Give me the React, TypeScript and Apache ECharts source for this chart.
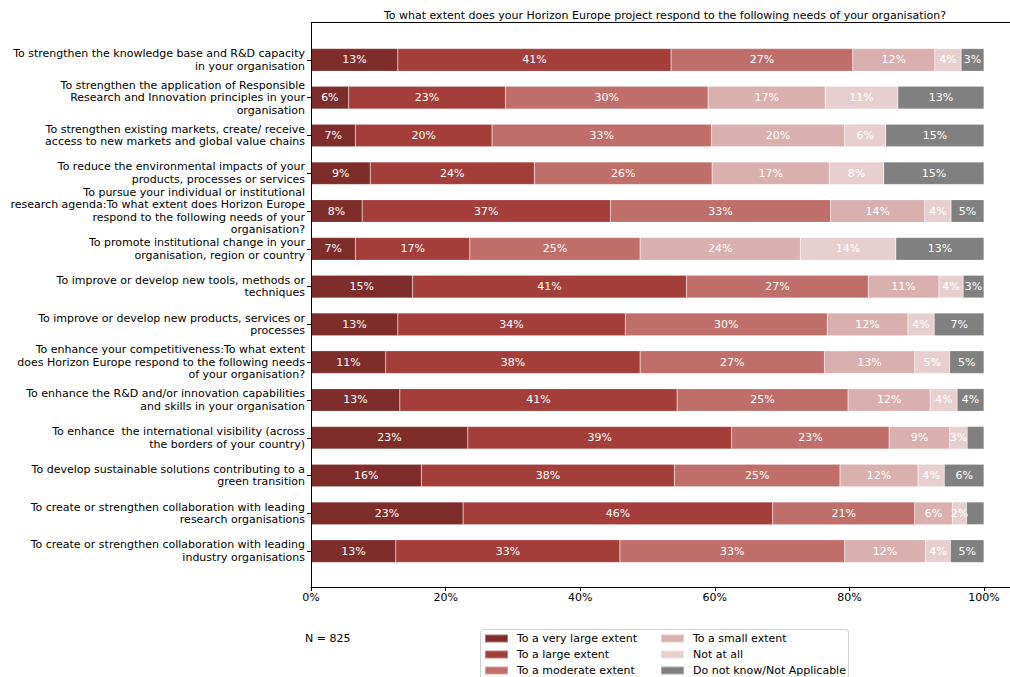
import React, { useEffect, useRef } from "react";
import * as echarts from "echarts";

const categories = [
  "To strengthen the knowledge base and R&D capacity\nin your organisation",
  "To strengthen the application of Responsible\nResearch and Innovation principles in your\norganisation",
  "To strengthen existing markets, create/ receive\naccess to new markets and global value chains",
  "To reduce the environmental impacts of your\nproducts, processes or services",
  "To pursue your individual or institutional\nresearch agenda:To what extent does Horizon Europe\nrespond to the following needs of your\norganisation?",
  "To promote institutional change in your\norganisation, region or country",
  "To improve or develop new tools, methods or\ntechniques",
  "To improve or develop new products, services or\nprocesses",
  "To enhance your competitiveness:To what extent\ndoes Horizon Europe respond to the following needs\nof your organisation?",
  "To enhance the R&D and/or innovation capabilities\nand skills in your organisation",
  "To enhance  the international visibility (across\nthe borders of your country)",
  "To develop sustainable solutions contributing to a\ngreen transition",
  "To create or strengthen collaboration with leading\nresearch organisations",
  "To create or strengthen collaboration with leading\nindustry organisations",
];

const seriesNames = [
  "To a very large extent",
  "To a large extent",
  "To a moderate extent",
  "To a small extent",
  "Not at all",
  "Do not know/Not Applicable",
];

const veryLarge = [12.9, 5.6, 6.6, 8.8, 7.6, 6.6, 15.1, 12.9, 11.1, 13.2, 23.3, 16.4, 22.6, 12.6];
const large = [40.6, 23.3, 20.3, 24.4, 36.9, 17.0, 40.7, 33.8, 37.8, 41.2, 39.2, 37.6, 46.0, 33.3];
const moderate = [27.0, 30.1, 32.6, 26.4, 32.7, 25.3, 27.0, 30.0, 27.4, 25.4, 23.4, 24.6, 21.1, 33.4];
const small = [12.2, 17.4, 19.8, 17.4, 14.0, 23.8, 10.5, 12.0, 13.4, 12.2, 9.0, 11.6, 5.6, 12.0];
const notAtAll = [3.9, 10.8, 6.1, 8.1, 3.9, 14.2, 3.6, 3.9, 5.2, 4.0, 2.6, 3.9, 2.1, 3.7];
const dontKnow = [3.4, 12.8, 14.6, 14.9, 4.9, 13.1, 3.1, 7.4, 5.1, 4.0, 2.5, 5.9, 2.6, 5.0];

const seriesValues = [veryLarge, large, moderate, small, notAtAll, dontKnow];
const colors = ["#7e2d2b", "#a43e3a", "#c06e6a", "#d9b0ae", "#e8cfcf", "#808080"];
const xTicks = [0, 20, 40, 60, 80, 100];

const FONT = "DejaVu Sans";

export default function App() {
  const ref = useRef<HTMLDivElement>(null);
  useEffect(() => {
    if (!ref.current) return;
    const chart = echarts.init(ref.current, null, { renderer: "svg" });
    const series = seriesNames.map((name, i) => ({
      name,
      type: "bar",
      stack: "total",
      barWidth: "60%",
      data: seriesValues[i],
      itemStyle: { color: colors[i], borderColor: "rgba(255,255,255,0.35)", borderWidth: 0.5 },
      label: {
        show: true,
        position: "inside",
        color: "#ffffff",
        fontFamily: FONT,
        fontSize: 11,
        formatter: (p: any) => {
          const v = p.value as number;
          if (i === 5 && v < 3) return "";
          if (v < 1.5) return "";
          return Math.round(v) + "%";
        },
      },
    }));
    const legendCommon = {
      orient: "vertical",
      top: 633,
      height: 80,
      padding: 0,
      itemWidth: 23,
      itemHeight: 8,
      itemGap: 5,
      icon: "rect",
      z: 10,
      textStyle: { color: "#000", fontFamily: FONT, fontSize: 11, padding: [0, 0, 0, 4] },
    };
    chart.setOption({
      animation: false,
      backgroundColor: "#ffffff",
      grid: { left: 311, right: 26, top: 41, bottom: 107, containLabel: false },
      xAxis: {
        type: "value",
        min: 0,
        max: 100,
        interval: 20,
        offset: 17,
        axisLine: { show: true, lineStyle: { color: "#000", width: 1 } },
        axisTick: { show: true, length: 4, lineStyle: { color: "#000" } },
        splitLine: { show: false },
        axisLabel: {
          margin: 5,
          color: "#000",
          fontFamily: FONT,
          fontSize: 11,
          formatter: (v: number) => (xTicks.includes(v) ? v + "%" : ""),
        },
      },
      yAxis: {
        type: "category",
        inverse: true,
        data: categories,
        axisLine: { show: false },
        axisTick: { show: true, alignWithLabel: true, length: 4, lineStyle: { color: "#000" } },
        axisLabel: {
          margin: 6,
          color: "#000",
          fontFamily: FONT,
          fontSize: 11,
          lineHeight: 12.6,
          align: "right",
          interval: 0,
          padding: [9, 0, 0, 0],
        },
      },
      legend: [
        { ...legendCommon, left: 484, data: seriesNames.slice(0, 3) },
        { ...legendCommon, left: 660, data: seriesNames.slice(3) },
      ],
      graphic: [
        {
          type: "rect",
          z: 1,
          silent: true,
          shape: { x: 480.5, y: 629.5, width: 368, height: 60, r: 3 },
          style: { fill: "#ffffff", stroke: "#d0d0d0", lineWidth: 1 },
        },
        {
          type: "line",
          z: 5,
          silent: true,
          shape: { x1: 311, y1: 22.5, x2: 1010, y2: 22.5 },
          style: { stroke: "#000", lineWidth: 1 },
        },
        {
          type: "line",
          z: 5,
          silent: true,
          shape: { x1: 311.5, y1: 22, x2: 311.5, y2: 587.5 },
          style: { stroke: "#000", lineWidth: 1 },
        },
        {
          type: "line",
          z: 5,
          silent: true,
          shape: { x1: 984, y1: 587.5, x2: 1010, y2: 587.5 },
          style: { stroke: "#000", lineWidth: 1 },
        },
        {
          type: "text",
          z: 5,
          x: 665,
          y: 15,
          style: {
            text: "To what extent does your Horizon Europe project respond to the following needs of your organisation?",
            fill: "#000",
            font: `11px "${FONT}"`,
            align: "center",
            verticalAlign: "middle",
          },
        },
        {
          type: "text",
          z: 5,
          x: 305,
          y: 638,
          style: {
            text: "N = 825",
            fill: "#000",
            font: `11px "${FONT}"`,
            align: "left",
            verticalAlign: "middle",
          },
        },
      ],
      series,
    });
    return () => chart.dispose();
  }, []);
  return (
    <div
      ref={ref}
      style={{ position: "fixed", left: 0, top: 0, width: 1010, height: 677 }}
    />
  );
}
